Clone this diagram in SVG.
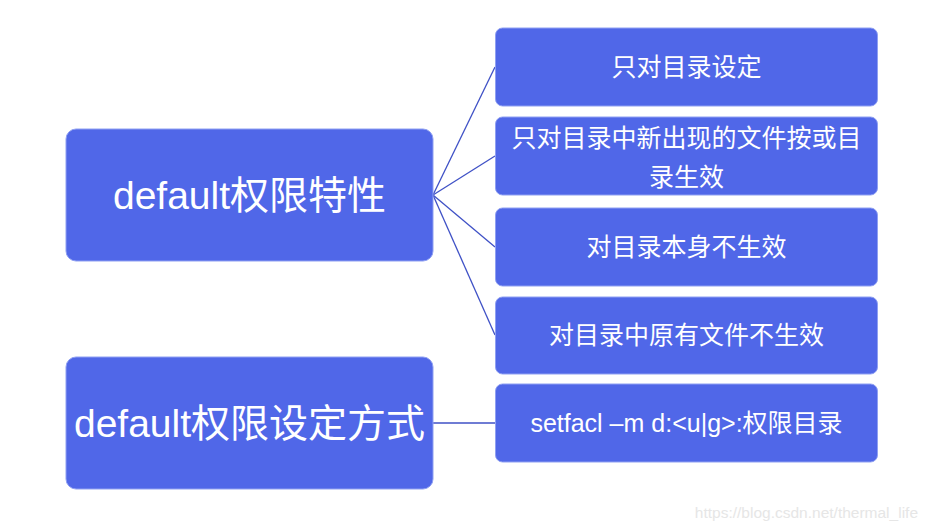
<svg xmlns="http://www.w3.org/2000/svg" width="932" height="532" viewBox="0 0 932 532">
<style>
.box{fill:#5067E8;stroke:#8FA0F2;stroke-width:1}
.t{fill:#fff;font-family:"Liberation Sans","Noto Sans CJK SC",sans-serif;text-anchor:middle}
.big{font-size:39px}
.sm{font-size:25px}
.c{stroke:#3F51C6;stroke-width:1.3;fill:none}
</style>
<rect width="932" height="532" fill="#fff"/>
<g id="connectors">
<line class="c" x1="433" y1="195" x2="495" y2="67"/>
<line class="c" x1="433" y1="195" x2="495" y2="156"/>
<line class="c" x1="433" y1="195" x2="495" y2="247"/>
<line class="c" x1="433" y1="195" x2="495" y2="335"/>
<line class="c" x1="433" y1="423" x2="495" y2="423"/>
</g>
<g id="n1"><rect class="box" x="66" y="129" width="367" height="132" rx="10"/><text class="t big" x="249.5" y="209">default权限特性</text></g>
<g id="n2"><rect class="box" x="66" y="357" width="367" height="132" rx="10"/><text class="t big" x="249.5" y="437">default权限设定方式</text></g>
<g id="r1"><rect class="box" x="495.5" y="28" width="382" height="78" rx="7"/><text class="t sm" x="686.5" y="76">只对目录设定</text></g>
<g id="r2"><rect class="box" x="495.5" y="117" width="382" height="78" rx="7"/><text class="t sm" x="686.5" y="147">只对目录中新出现的文件按或目</text><text class="t sm" x="686.5" y="186">录生效</text></g>
<g id="r3"><rect class="box" x="495.5" y="208" width="382" height="78" rx="7"/><text class="t sm" x="686.5" y="256">对目录本身不生效</text></g>
<g id="r4"><rect class="box" x="495.5" y="297" width="382" height="77" rx="7"/><text class="t sm" x="686.5" y="344">对目录中原有文件不生效</text></g>
<g id="r5"><rect class="box" x="495.5" y="384" width="382" height="78" rx="7"/><text class="t sm" x="686.5" y="432">setfacl –m d:&lt;u|g&gt;:权限目录</text></g>
<text x="918" y="518" text-anchor="end" font-family="Liberation Sans,Arial,sans-serif" font-size="15.5" fill="#E6E6E6">https://blog.csdn.net/thermal_life</text>
</svg>
